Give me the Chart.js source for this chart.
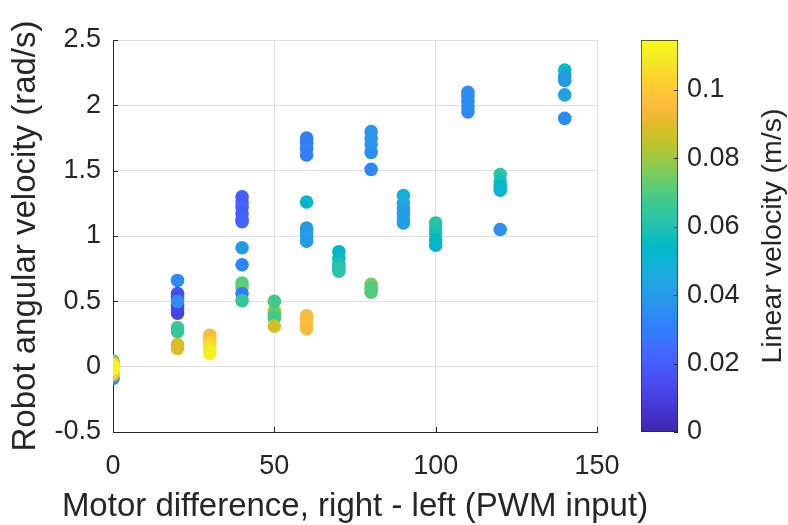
<!DOCTYPE html>
<html>
<head>
<meta charset="utf-8">
<script src="https://cdn.jsdelivr.net/npm/chart.js@4.4.1/dist/chart.umd.min.js"></script>
<style>
  html, body { margin: 0; padding: 0; background: #ffffff; }
  #wrap { position: relative; width: 788px; height: 525px; }
  canvas { position: absolute; left: 0; top: 0; }
  #cb { pointer-events: none; }
</style>
</head>
<body>
<div id="wrap">
  <canvas id="main" width="788" height="525"></canvas>
  <canvas id="cb" width="788" height="525"></canvas>
</div>
<script>
// ---------------- DATA ----------------
const motorDiff = [
  0, 0, 0, 0, 0, 0, 0, 0, 0, 0,
  20, 20, 20, 20, 20, 20, 20, 20, 20, 20, 20,
  30, 30, 30, 30, 30, 30,
  40, 40, 40, 40, 40, 40, 40, 40, 40, 40, 40, 40,
  50, 50, 50, 50, 50,
  60, 60, 60, 60, 60, 60, 60, 60, 60, 60, 60, 60, 60,
  70, 70, 70, 70, 70,
  80, 80, 80, 80, 80, 80, 80, 80,
  90, 90, 90, 90, 90, 90,
  100, 100, 100, 100, 100,
  110, 110, 110, 110, 110,
  120, 120, 120, 120, 120,
  140, 140, 140, 140, 140
];
const angularVel = [
  -0.09, 0.045, 0.03, -0.06, -0.04, 0.02, -0.02, 0.01, 0.0, -0.01,
  0.66, 0.56, 0.53, 0.47, 0.44, 0.41, 0.50, 0.30, 0.27, 0.17, 0.14,
  0.24, 0.21, 0.18, 0.15, 0.12, 0.10,
  1.30, 1.26, 1.22, 1.17, 1.13, 1.11, 0.91, 0.78, 0.64, 0.61, 0.56, 0.505,
  0.43, 0.50, 0.40, 0.37, 0.31,
  1.75, 1.71, 1.67, 1.62, 1.26, 1.06, 1.03, 1.00, 0.96, 0.39, 0.36, 0.32, 0.29,
  0.88, 0.83, 0.79, 0.76, 0.73,
  1.80, 1.75, 1.70, 1.64, 1.51, 0.63, 0.60, 0.57,
  1.31, 1.25, 1.21, 1.17, 1.13, 1.10,
  1.10, 1.06, 1.02, 0.97, 0.93,
  2.10, 2.07, 2.03, 1.99, 1.95,
  1.47, 1.42, 1.38, 1.35, 1.05,
  2.27, 2.22, 2.19, 2.08, 1.90
];
const linearVel = [
  0.034, 0.072, 0.085, 0.094, 0.100, 0.100, 0.108, 0.110, 0.112, 0.113,
  0.035, 0.016, 0.014, 0.012, 0.011, 0.012, 0.035, 0.068, 0.064, 0.087, 0.089,
  0.095, 0.097, 0.102, 0.107, 0.110, 0.111,
  0.020, 0.020, 0.021, 0.020, 0.021, 0.022, 0.040, 0.032, 0.070, 0.072, 0.030, 0.065,
  0.085, 0.068, 0.070, 0.068, 0.087,
  0.030, 0.030, 0.031, 0.030, 0.052, 0.040, 0.040, 0.041, 0.040, 0.095, 0.095, 0.096, 0.095,
  0.052, 0.055, 0.058, 0.060, 0.061,
  0.038, 0.037, 0.038, 0.036, 0.033, 0.075, 0.070, 0.070,
  0.050, 0.045, 0.043, 0.042, 0.042, 0.042,
  0.062, 0.060, 0.058, 0.055, 0.052,
  0.035, 0.035, 0.034, 0.035, 0.034,
  0.062, 0.058, 0.055, 0.050, 0.036,
  0.055, 0.040, 0.040, 0.043, 0.034
];
const xTickValues = [0, 50, 100, 150];
const yTickValues = [-0.5, 0, 0.5, 1, 1.5, 2, 2.5];
const cbTickValues = [0, 0.02, 0.04, 0.06, 0.08, 0.1];
const colorLimit = [0, 0.1146];

const xTitle = 'Motor difference, right - left (PWM input)';
const yTitle = 'Robot angular velocity (rad/s)';
const cbTitle = 'Linear velocity (m/s)';

// ---------------- COLORMAP (parula) ----------------
const parula = [
[0.2422,0.1504,0.6603],[0.2504,0.1650,0.7076],[0.2578,0.1818,0.7511],[0.2647,0.1978,0.7952],
[0.2706,0.2147,0.8364],[0.2751,0.2342,0.8710],[0.2783,0.2559,0.8991],[0.2803,0.2782,0.9221],
[0.2813,0.3006,0.9414],[0.2810,0.3228,0.9579],[0.2795,0.3447,0.9717],[0.2760,0.3667,0.9829],
[0.2699,0.3892,0.9906],[0.2602,0.4123,0.9952],[0.2440,0.4358,0.9988],[0.2206,0.4603,0.9973],
[0.1963,0.4847,0.9892],[0.1834,0.5074,0.9798],[0.1786,0.5289,0.9682],[0.1764,0.5499,0.9520],
[0.1687,0.5703,0.9359],[0.1540,0.5902,0.9218],[0.1460,0.6091,0.9079],[0.1380,0.6276,0.8973],
[0.1248,0.6459,0.8883],[0.1113,0.6635,0.8763],[0.0952,0.6798,0.8598],[0.0689,0.6948,0.8394],
[0.0297,0.7082,0.8163],[0.0036,0.7203,0.7917],[0.0067,0.7312,0.7660],[0.0433,0.7411,0.7394],
[0.0964,0.7500,0.7120],[0.1408,0.7584,0.6842],[0.1717,0.7670,0.6554],[0.1938,0.7758,0.6251],
[0.2161,0.7843,0.5923],[0.2470,0.7918,0.5567],[0.2906,0.7973,0.5188],[0.3406,0.8008,0.4789],
[0.3909,0.8029,0.4354],[0.4456,0.8024,0.3909],[0.5044,0.7993,0.3480],[0.5616,0.7942,0.3045],
[0.6174,0.7876,0.2612],[0.6720,0.7793,0.2227],[0.7242,0.7698,0.1910],[0.7738,0.7598,0.1646],
[0.8203,0.7498,0.1535],[0.8634,0.7406,0.1596],[0.9035,0.7330,0.1774],[0.9393,0.7288,0.2100],
[0.9728,0.7298,0.2394],[0.9956,0.7434,0.2371],[0.9970,0.7659,0.2199],[0.9952,0.7893,0.2028],
[0.9892,0.8136,0.1885],[0.9786,0.8386,0.1766],[0.9676,0.8639,0.1643],[0.9610,0.8890,0.1537],
[0.9597,0.9135,0.1423],[0.9628,0.9373,0.1265],[0.9691,0.9606,0.1064],[0.9769,0.9839,0.0805]
];
function rgbStr(c) {
  return 'rgb(' + Math.round(c[0]*255) + ',' + Math.round(c[1]*255) + ',' + Math.round(c[2]*255) + ')';
}
function parulaColor(v) {
  let t = (v - colorLimit[0]) / (colorLimit[1] - colorLimit[0]);
  t = Math.max(0, Math.min(1, t));
  const f = t * (parula.length - 1);
  const i = Math.min(parula.length - 2, Math.floor(f));
  const a = f - i;
  const c0 = parula[i], c1 = parula[i + 1];
  return rgbStr([c0[0] + (c1[0]-c0[0])*a, c0[1] + (c1[1]-c0[1])*a, c0[2] + (c1[2]-c0[2])*a]);
}

// ---------------- STYLE ----------------
const FONT = "'Liberation Sans', Arial, Helvetica, sans-serif";
const AXIS_COLOR = '#262626';
const GRID_COLOR = '#dfdfdf';
Chart.defaults.font.family = FONT;
Chart.defaults.color = AXIS_COLOR;

const points = motorDiff.map((x, i) => ({ x: x, y: angularVel[i] }));
const pointColors = linearVel.map(parulaColor);

function fmt(v) { return String(Math.round(v * 1000) / 1000); }

// inward tick marks (MATLAB style) + axis titles drawn without width squeezing
const axisDecor = {
  id: 'axisDecor',
  beforeDatasetsDraw(chart) {
    const { ctx, chartArea, scales } = chart;
    const len = 5;
    ctx.save();
    ctx.strokeStyle = AXIS_COLOR;
    ctx.lineWidth = 1;
    ctx.beginPath();
    scales.x.ticks.forEach(t => {
      const px = Math.round(scales.x.getPixelForValue(t.value)) + 0.5;
      ctx.moveTo(px, chartArea.bottom);
      ctx.lineTo(px, chartArea.bottom - len);
    });
    scales.y.ticks.forEach(t => {
      const py = Math.round(scales.y.getPixelForValue(t.value)) + 0.5;
      ctx.moveTo(chartArea.left, py);
      ctx.lineTo(chartArea.left + len, py);
    });
    ctx.stroke();
    ctx.restore();
  },
  afterDraw(chart) {
    const { ctx, chartArea } = chart;
    ctx.save();
    ctx.font = '33px ' + FONT;
    ctx.fillStyle = AXIS_COLOR;
    ctx.textAlign = 'center';
    ctx.textBaseline = 'alphabetic';
    ctx.fillText(xTitle, (chartArea.left + chartArea.right) / 2, 516);
    ctx.translate(35, (chartArea.top + chartArea.bottom) / 2);
    ctx.rotate(-Math.PI / 2);
    ctx.fillText(yTitle, 0, 0);
    ctx.restore();
  }
};

new Chart(document.getElementById('main').getContext('2d'), {
  type: 'scatter',
  data: {
    datasets: [{
      data: points,
      backgroundColor: pointColors,
      borderWidth: 0,
      pointRadius: 6.8,
      pointHoverRadius: 6.8
    }]
  },
  options: {
    responsive: false,
    animation: false,
    events: [],
    plugins: { legend: { display: false }, tooltip: { enabled: false } },
    layout: { padding: { left: 0, top: 40, right: 191, bottom: 0 } },
    scales: {
      x: {
        type: 'linear',
        min: xTickValues[0],
        max: xTickValues[xTickValues.length - 1],
        afterBuildTicks: s => { s.ticks = xTickValues.map(v => ({ value: v })); },
        ticks: { font: { size: 27 }, color: AXIS_COLOR, padding: 18, maxRotation: 0, callback: v => fmt(v) },
        grid: { color: GRID_COLOR, lineWidth: 1, drawTicks: false },
        border: { display: true, color: AXIS_COLOR, width: 1 },
        title: { display: false },
        afterFit: s => { s.height = 93; }
      },
      y: {
        type: 'linear',
        min: yTickValues[0],
        max: yTickValues[yTickValues.length - 1],
        afterBuildTicks: s => { s.ticks = yTickValues.map(v => ({ value: v })); },
        ticks: { font: { size: 27 }, color: AXIS_COLOR, padding: 12, callback: v => fmt(v) },
        grid: { color: GRID_COLOR, lineWidth: 1, drawTicks: false },
        border: { display: true, color: AXIS_COLOR, width: 1 },
        title: { display: false },
        afterFit: s => { s.width = 113; }
      }
    }
  },
  plugins: [axisDecor]
});

// ---------------- COLORBAR ----------------
function cbGradient(context) {
  const chart = context.chart;
  const area = chart.chartArea;
  if (!area) return parulaColor(colorLimit[1] / 2);
  const g = chart.ctx.createLinearGradient(0, area.bottom, 0, area.top);
  parula.forEach((c, i) => g.addColorStop(i / (parula.length - 1), rgbStr(c)));
  return g;
}

const cbDecor = {
  id: 'cbDecor',
  afterDraw(chart) {
    const { ctx, chartArea, scales } = chart;
    ctx.save();
    ctx.strokeStyle = AXIS_COLOR;
    ctx.lineWidth = 1;
    ctx.beginPath();
    scales.y.ticks.forEach(t => {
      const py = Math.round(scales.y.getPixelForValue(t.value)) + 0.5;
      ctx.moveTo(chartArea.right, py);
      ctx.lineTo(chartArea.right - 4, py);
    });
    ctx.stroke();
    ctx.translate(781, (chartArea.top + chartArea.bottom) / 2);
    ctx.rotate(-Math.PI / 2);
    ctx.font = '28.5px ' + FONT;
    ctx.fillStyle = AXIS_COLOR;
    ctx.textAlign = 'center';
    ctx.textBaseline = 'alphabetic';
    ctx.fillText(cbTitle, 0, 0);
    ctx.restore();
  }
};

new Chart(document.getElementById('cb').getContext('2d'), {
  type: 'bar',
  data: {
    labels: [''],
    datasets: [{
      data: [[colorLimit[0], colorLimit[1]]],
      backgroundColor: cbGradient,
      borderColor: AXIS_COLOR,
      borderWidth: 1,
      borderSkipped: false,
      categoryPercentage: 1,
      barPercentage: 1
    }]
  },
  options: {
    responsive: false,
    animation: false,
    events: [],
    plugins: { legend: { display: false }, tooltip: { enabled: false } },
    layout: { padding: { left: 641, top: 40, right: 0, bottom: 93 } },
    scales: {
      x: { display: false },
      y: {
        position: 'right',
        min: colorLimit[0],
        max: colorLimit[1],
        afterBuildTicks: s => { s.ticks = cbTickValues.map(v => ({ value: v })); },
        ticks: { font: { size: 27 }, color: AXIS_COLOR, padding: 9, callback: v => fmt(v) },
        grid: { display: false, drawTicks: false },
        border: { display: false },
        afterFit: s => { s.width = 110; }
      }
    }
  },
  plugins: [cbDecor]
});
</script>
</body>
</html>
